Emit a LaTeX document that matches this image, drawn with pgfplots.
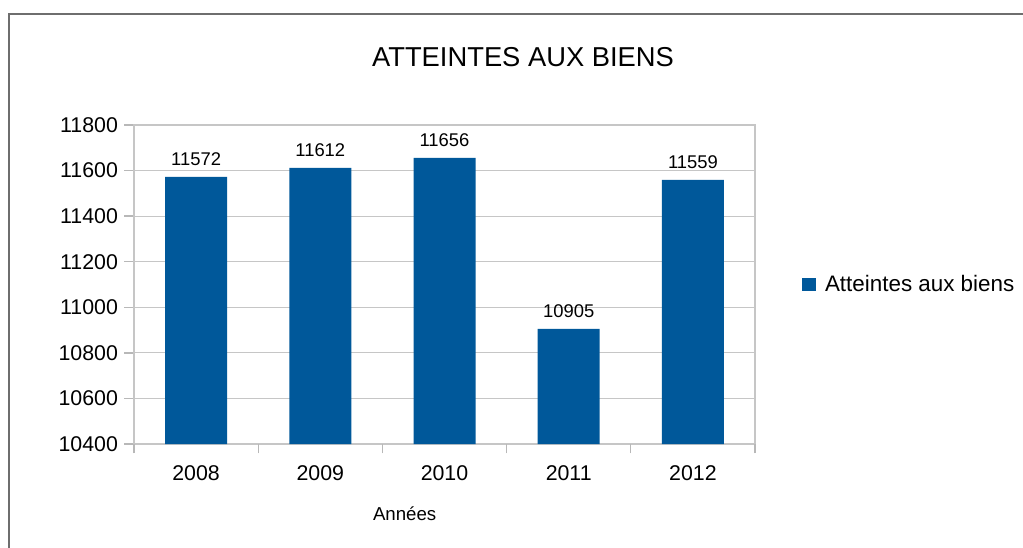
\documentclass[border=0pt]{standalone}
\usepackage{fontspec}
\setmainfont{Liberation Sans}
\usepackage{pgfplots}
\pgfplotsset{compat=1.18}
\definecolor{barblue}{HTML}{00589A}
\definecolor{gridgray}{HTML}{C6C6C6}
\definecolor{tickgray}{HTML}{B8B8B8}
\definecolor{framegray}{HTML}{6E6E6E}
\begin{document}
\begin{tikzpicture}
\useasboundingbox (0pt,0pt) rectangle (767.25pt,-411pt);
\draw[framegray, line width=1.4pt] (6.75pt,-412pt) -- (6.75pt,-10.5pt) -- (768pt,-10.5pt);
\node[font=\fontsize{20.5}{24}\selectfont, inner sep=0pt] at (392.25pt,-42.75pt) {ATTEINTES AUX BIENS};
\node[font=\fontsize{14}{16}\selectfont, inner sep=0pt] at (303.5pt,-385.5pt) {Années};
\begin{axis}[
  at={(100.5pt,-333pt)}, anchor=south west,
  scale only axis, width=465.75pt, height=239.25pt,
  ymin=10400, ymax=11800, ytick={10400,10600,...,11800},
  scaled y ticks=false,
  xmin=-0.5, xmax=4.5,
  xtick={0,1,2,3,4}, xticklabels={2008,2009,2010,2011,2012},
  extra x ticks={-0.5,0.5,1.5,2.5,3.5,4.5}, extra x tick labels={},
  extra x tick style={major tick length=7pt, xtick style={draw=tickgray, line width=1pt}, grid=none},
  xtick style={draw=none},
  ytick style={draw=tickgray, line width=1pt},
  major tick length=7.5pt,
  tick align=outside, tick pos=left,
  ymajorgrids, grid style={gridgray, line width=0.8pt},
  axis line style={gridgray, line width=0.9pt},
  ticklabel style={font=\fontsize{16}{18}\selectfont},
  /pgf/number format/assume math mode=true,
  /pgf/number format/1000 sep={},
  yticklabel style={xshift=-1pt},
  xticklabel style={yshift=-5pt},
  ybar, bar width=46.5pt,
  nodes near coords,
  nodes near coords style={font=\fontsize{13.8}{15}\selectfont, /pgf/number format/1000 sep={}, /pgf/number format/assume math mode=true, yshift=5pt},
  legend style={at={(1.075,0.5)}, anchor=west, draw=none, font=\fontsize{16.8}{18}\selectfont, inner sep=0pt,
    /tikz/every even column/.append style={column sep=0pt}},
  legend image code/.code={\fill[barblue] (0pt,-5.2pt) rectangle (10.4pt,5.2pt);},
  legend cell align=left,
]
\addplot[fill=barblue, draw=none] coordinates {(0,11572) (1,11612) (2,11656) (3,10905) (4,11559)};
\addlegendentry{\hspace{5pt}Atteintes aux biens}
\end{axis}
\end{tikzpicture}
\end{document}
